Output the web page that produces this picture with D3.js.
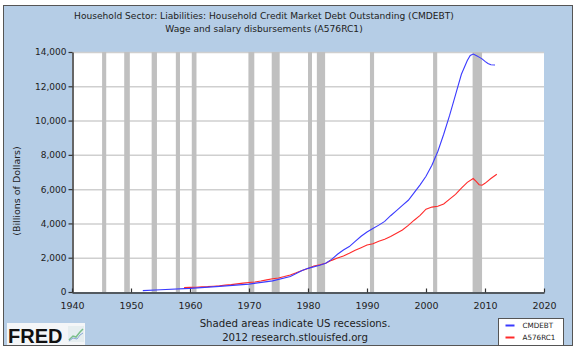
<!DOCTYPE html>
<html>
<head>
<meta charset="utf-8">
<script src="https://cdn.jsdelivr.net/npm/d3@7"></script>
<style>
  body { margin: 0; background: #fff; }
  svg { display: block; font-family: "DejaVu Sans", Verdana, sans-serif; }
</style>
</head>
<body>
<div id="chart"></div>
<script>
// Household credit market debt (CMDEBT), billions of dollars
const debtYears = [1952, 1955, 1960, 1965, 1970, 1974, 1977, 1979, 1980, 1982, 1983, 1984, 1985, 1986, 1987, 1988, 1989, 1990, 1991, 1992, 1993, 1994, 1995, 1996, 1997, 1998, 1999, 2000, 2001, 2002, 2003, 2004, 2005, 2006, 2007, 2007.5, 2008, 2008.5, 2009, 2009.5, 2010, 2010.5, 2011, 2011.7];
const debtValues = [80, 130, 210, 330, 460, 650, 900, 1250, 1380, 1560, 1680, 1900, 2200, 2450, 2650, 2950, 3250, 3500, 3700, 3900, 4120, 4450, 4750, 5050, 5350, 5800, 6250, 6750, 7400, 8200, 9200, 10300, 11500, 12700, 13500, 13800, 13880, 13800, 13700, 13600, 13450, 13330, 13260, 13240];

// Wage and salary disbursements (A576RC1), billions of dollars
const wageYears = [1959, 1960, 1961, 1962, 1963, 1964, 1965, 1966, 1967, 1968, 1969, 1970, 1971, 1972, 1973, 1974, 1975, 1976, 1977, 1978, 1979, 1980, 1981, 1982, 1983, 1984, 1985, 1986, 1987, 1988, 1989, 1990, 1991, 1992, 1993, 1994, 1995, 1996, 1997, 1998, 1999, 2000, 2001, 2002, 2003, 2004, 2005, 2006, 2007, 2008, 2008.5, 2009, 2009.5, 2010, 2011, 2012];
const wageValues = [259, 272, 280, 298, 312, 336, 363, 400, 429, 472, 518, 551, 583, 638, 708, 772, 814, 899, 994, 1120, 1255, 1377, 1517, 1586, 1677, 1845, 1982, 2102, 2257, 2440, 2587, 2742, 2812, 2961, 3075, 3237, 3425, 3621, 3886, 4188, 4472, 4829, 4953, 4997, 5139, 5422, 5693, 6057, 6396, 6620, 6450, 6260, 6230, 6340, 6620, 6870];

// NBER recessions (start, end as decimal years)
const recessionStarts = [1945.1, 1948.85, 1953.5, 1957.6, 1960.3, 1969.9, 1973.85, 1980.0, 1981.5, 1990.5, 2001.2, 2007.9];
const recessionEnds   = [1945.8, 1949.8, 1954.4, 1958.3, 1961.1, 1970.9, 1975.2, 1980.5, 1982.9, 1991.2, 2001.9, 2009.5];

const xTicks = [1940, 1950, 1960, 1970, 1980, 1990, 2000, 2010, 2020];
const yTicks = [0, 2000, 4000, 6000, 8000, 10000, 12000, 14000];
const seriesNames = ["CMDEBT", "A576RC1"];
const seriesColors = ["#3a3aff", "#ff2a2a"];
const titleLines = [
  "Household Sector: Liabilities: Household Credit Market Debt Outstanding (CMDEBT)",
  "Wage and salary disbursements (A576RC1)"
];
const footerLines = ["Shaded areas indicate US recessions.", "2012 research.stlouisfed.org"];

const width = 580, height = 352;
const plot = {left: 72, right: 544, top: 52, bottom: 292};

const svg = d3.select("#chart").append("svg")
  .attr("width", width)
  .attr("height", height);

// Outer blue frame
svg.append("rect")
  .attr("x", 3.5).attr("y", 5.5)
  .attr("width", 569).attr("height", 340)
  .attr("fill", "#b5cde6")
  .attr("stroke", "#555")
  .attr("stroke-width", 1);

const x = d3.scaleLinear().domain([1940, 2020]).range([plot.left, plot.right]);
const y = d3.scaleLinear().domain([0, 14000]).range([plot.bottom, plot.top]);

// Plot background
svg.append("rect")
  .attr("x", plot.left).attr("y", plot.top)
  .attr("width", plot.right - plot.left).attr("height", plot.bottom - plot.top)
  .attr("fill", "#fff");

// Horizontal gridlines
svg.append("g")
  .selectAll("line")
  .data(yTicks.slice(1))
  .enter().append("line")
  .attr("x1", plot.left).attr("x2", plot.right)
  .attr("y1", d => y(d) + 0.5).attr("y2", d => y(d) + 0.5)
  .attr("stroke", "#cfcfcf")
  .attr("stroke-width", 1.5);

// Recession bars
svg.append("g")
  .selectAll("rect")
  .data(recessionStarts.map((s, i) => ({s: s, e: recessionEnds[i]})))
  .enter().append("rect")
  .attr("x", d => x(d.s))
  .attr("width", d => Math.max(4, x(d.e) - x(d.s)))
  .attr("y", plot.top).attr("height", plot.bottom - plot.top)
  .attr("fill", "#c0c0c0");

// Axes
const xAxis = d3.axisBottom(x).tickValues(xTicks).tickFormat(d3.format("d")).tickSizeInner(-4).tickSizeOuter(0).tickPadding(10);
const gx = svg.append("g").attr("transform", `translate(0,${plot.bottom + 0.5})`).call(xAxis);
gx.select(".domain").attr("stroke", "#333").attr("stroke-width", 1.5);
gx.selectAll(".tick line").attr("stroke", "#333").attr("stroke-width", 1.2);
gx.selectAll("text").attr("font-size", 9.5).attr("fill", "#222").attr("font-family", "DejaVu Sans, Verdana, sans-serif");

const yAxis = d3.axisLeft(y).tickValues(yTicks).tickFormat(d3.format(",")).tickSizeInner(4).tickSizeOuter(0).tickPadding(2);
const gy = svg.append("g").attr("transform", `translate(${plot.left + 0.5},0)`).call(yAxis);
gy.select(".domain").attr("stroke", "#333").attr("stroke-width", 1.5);
gy.selectAll(".tick line").attr("stroke", "#333").attr("stroke-width", 1.2);
gy.selectAll("text").attr("font-size", 9).attr("fill", "#222").attr("font-family", "DejaVu Sans, Verdana, sans-serif");

// Series lines
const line = d3.line().x(d => x(d[0])).y(d => y(d[1]));
const series = [
  debtYears.map((yr, i) => [yr, debtValues[i]]),
  wageYears.map((yr, i) => [yr, wageValues[i]])
];
series.slice().reverse().forEach((s, i) => {
  svg.append("path")
    .datum(s)
    .attr("fill", "none")
    .attr("stroke", seriesColors[series.length - 1 - i])
    .attr("stroke-width", 1.1)
    .attr("d", line);
});

// Title
svg.append("g").selectAll("text")
  .data(titleLines)
  .enter().append("text")
  .attr("x", 264).attr("y", (d, i) => 19 + i * 13)
  .attr("text-anchor", "middle")
  .attr("font-size", 9.1)
  .attr("fill", "#222")
  .text(d => d);

// Y-axis title
svg.append("text")
  .attr("transform", "translate(20,191) rotate(-90)")
  .attr("text-anchor", "middle")
  .attr("font-size", 9.5)
  .attr("fill", "#222")
  .text("(Billions of Dollars)");

// Footer
svg.append("g").selectAll("text")
  .data(footerLines)
  .enter().append("text")
  .attr("x", 295).attr("y", (d, i) => 327 + i * 14)
  .attr("text-anchor", "middle")
  .attr("font-size", 10.2)
  .attr("fill", "#222")
  .text(d => d);

// Legend
const legend = svg.append("g").attr("transform", "translate(498.5,318.5)");
legend.append("rect")
  .attr("width", 65).attr("height", 27)
  .attr("fill", "#fff").attr("stroke", "#555");
seriesNames.forEach((name, i) => {
  legend.append("line")
    .attr("x1", 7).attr("x2", 16)
    .attr("y1", 7 + i * 12).attr("y2", 7 + i * 12)
    .attr("stroke", seriesColors[i]).attr("stroke-width", 2);
  legend.append("text")
    .attr("x", 24).attr("y", 9.5 + i * 12)
    .attr("font-size", 7.2)
    .attr("fill", "#222")
    .text(name);
});

// FRED logo
svg.append("rect")
  .attr("x", 7).attr("y", 323).attr("width", 78).attr("height", 22)
  .attr("fill", "#f4f6f8");
svg.append("text")
  .attr("x", 8).attr("y", 343)
  .attr("font-family", "Liberation Sans, Arial, sans-serif")
  .attr("font-weight", "bold")
  .attr("font-size", 20)
  .attr("fill", "#111")
  .text("FRED");
const icon = svg.append("g").attr("transform", "translate(68,326)");
icon.append("rect").attr("width", 16).attr("height", 16).attr("fill", "#e6eef0");
icon.append("path")
  .attr("d", d3.line()([[1, 14], [5, 10], [8, 11], [12, 6], [15, 3]]))
  .attr("fill", "none").attr("stroke", "#7bbf8a").attr("stroke-width", 1.5);
icon.append("path")
  .attr("d", d3.line()([[1, 15], [5, 12], [9, 13], [12, 9], [15, 7]]))
  .attr("fill", "none").attr("stroke", "#8aa8d8").attr("stroke-width", 1);
</script>
</body>
</html>
